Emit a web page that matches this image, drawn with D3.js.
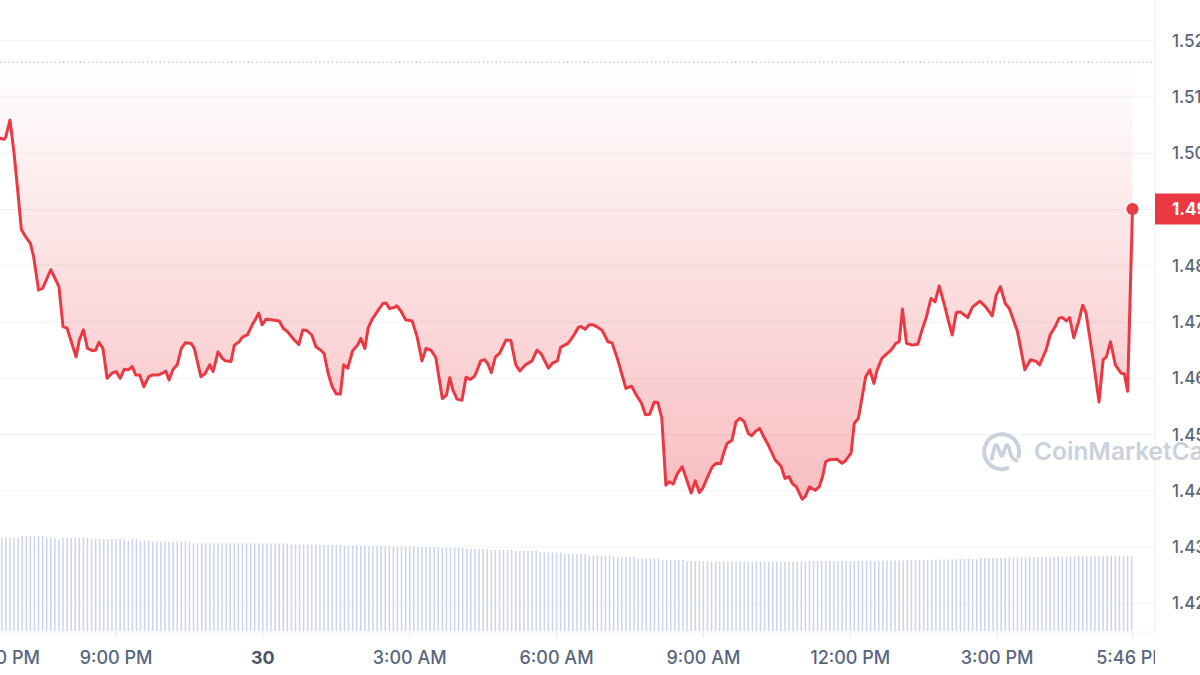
<!DOCTYPE html>
<html>
<head>
<meta charset="utf-8">
<script src="https://cdn.jsdelivr.net/npm/d3@7"></script>
<style>
  html, body { margin: 0; padding: 0; background: #ffffff; }
  svg { display: block; font-family: Inter, "Noto Sans", sans-serif; }
</style>
</head>
<body>
<div id="chart"></div>
<script>
// Price samples: minutes after 6:00 PM (29th) and the price at that time
const priceMinutes = [36,43,45,50,55,59,64,69,75,79,85,90,100,104,110,115,120,131,135,140,145,151,155,159,164,169,175,180,185,190,195,200,204,209,214,220,225,232,237,241,245,250,255,260,265,272,276,284,289,295,299,305,310,314,321,325,331,
    335,341,347,351,355,359,364,370,380,385,390,398,404,409,414,420,425,431,435,440,445,450,455,459,464,470,476,480,485,489,494,500,507,511,515,521,524,529,535,543,549,555,560,566,572,580,585,589,593,598,604,609,614,619,
    622,627,632,636,640,645,650,658,664,670,675,682,690,696,701,710,715,721,725,734,740,747,750,755,760,765,770,776,783,788,795,805,812,818,824,829,834,840,844,849,854,858,863,868,874,885,890,895,899,907,
    911,916,921,925,929,935,940,945,950,955,959,964,969,974,980,988,995,1000,1005,1009,1014,1021,1025,1030,1037,1042,1046,1050,1054,1064,1070,1074,1081,1085,1090,1099,1104,1109,1113,1119,1123,1130,1136,1140,1144,1149,1156,1163,1168,1173,1179,1184,1189,1195,1200,1205,1210,1215,1224,1230,1239,1246,1254,1259,1264,1270,1275,1285,1294,1301,1308,1312,1320,1325,1332,1336,1340,1345,1349,1354,1360,1365,1369,1377,1385,1390,1394,1399,1405,1412,1416,1420,1426];

const priceValues = [1.5027,1.5025,1.5030,1.5059,1.5000,1.4941,1.4864,1.4852,1.4840,1.4816,1.4757,1.4760,1.4793,1.4781,1.4763,1.4692,1.4689,1.4638,1.4668,1.4686,1.4653,1.4649,1.4650,1.4664,1.4653,1.4600,1.4609,1.4612,1.4600,1.4616,1.4615,1.4621,1.4606,1.4606,1.4585,1.4603,1.4606,1.4606,1.4609,1.4613,1.4597,1.4616,1.4624,1.4653,1.4663,1.4662,1.4653,1.4603,1.4608,1.4624,1.4612,1.4647,1.4636,1.4631,1.4630,1.4659,1.4665,
    1.4673,1.4677,1.4695,1.4705,1.4716,1.4695,1.4705,1.4704,1.4702,1.4689,1.4683,1.4669,1.4660,1.4686,1.4685,1.4677,1.4656,1.4650,1.4644,1.4609,1.4585,1.4572,1.4572,1.4624,1.4618,1.4649,1.4659,1.4671,1.4653,1.4689,1.4705,1.4718,1.4733,1.4734,1.4724,1.4726,1.4729,1.4720,1.4704,1.4702,1.4674,1.4631,1.4653,1.4650,1.4637,1.4564,1.4570,1.4601,1.4579,1.4563,1.4561,1.4602,1.4598,1.4603,
    1.4612,1.4631,1.4633,1.4625,1.4610,1.4638,1.4644,1.4668,1.4667,1.4624,1.4613,1.4624,1.4631,1.4650,1.4644,1.4618,1.4627,1.4631,1.4655,1.4662,1.4674,1.4691,1.4692,1.4687,1.4695,1.4695,1.4691,1.4685,1.4665,1.4663,1.4633,1.4582,1.4586,1.4570,1.4556,1.4535,1.4536,1.4558,1.4557,1.4529,1.4410,1.4416,1.4412,1.4430,1.4443,1.4396,1.4418,1.4397,1.4404,1.4431,
    1.4443,1.4449,1.4448,1.4468,1.4484,1.4490,1.4523,1.4529,1.4523,1.4502,1.4498,1.4506,1.4511,1.4496,1.4480,1.4455,1.4444,1.4422,1.4425,1.4413,1.4407,1.4385,1.4390,1.4407,1.4401,1.4407,1.4425,1.4452,1.4455,1.4456,1.4449,1.4453,1.4467,1.4520,1.4529,1.4603,1.4615,1.4591,1.4615,1.4636,1.4641,1.4650,1.4662,1.4665,1.4723,1.4662,1.4659,1.4661,1.4686,1.4707,1.4742,1.4736,1.4764,1.4733,1.4704,1.4677,1.4717,1.4718,1.4708,1.4727,1.4737,1.4727,1.4711,1.4748,1.4763,1.4733,1.4724,1.4683,1.4615,1.4633,1.4630,1.4624,1.4650,1.4677,1.4694,1.4707,1.4708,1.4702,1.4708,1.4672,1.4701,1.4730,1.4716,1.4641,1.4558,1.4633,1.4638,1.4665,1.4624,1.4609,1.4608,1.4577,1.4901];

// Opening price of the window (dotted reference line)
const openPrice = 1.5162;

// Volume bars, one per 5 minutes starting 40 min after 6:00 PM (one row per hour)
const volumeStartMinute = 40;
const volumeStepMinutes = 5;
const volumeValues = [
    93.3,93.3,93.3,93.3,93.3,95,95,95,95,95,95,93.3,
    93.3,93.3,91.7,93.3,93.3,93.3,93.3,93.3,93.3,93.3,91.7,92,
    92,92,92,92,92,92,92,90.3,92,92,90.3,90.3,
    90.3,89.3,89.3,89.3,89.3,89.3,89.3,89.5,89.5,89.5,88.3,87.7,
    87.7,87.7,87.7,87.7,87.7,87.7,87.7,87.7,87.7,87.7,87.7,87.7,
    87.7,87.7,87.7,87.7,87.7,87.7,87.7,87.7,87.7,87.7,87.7,86.7,
    86.5,86.5,86.5,86.5,86.5,86.5,86,86,86,86,86,86,
    85.5,85.5,85.5,85.5,85.5,85.5,85,85,85,85,85,85,
    84.5,84.5,84.5,84.5,84.5,84.5,84,84,84,84,84,84,
    83,83,83,83,83,83,82,82,82,82,82,82,
    81,81,81,81,81,81,80,80,80,80,80,80,
    78.5,78.5,78.5,78.5,78.5,78.5,77,77,77,77,77,77,
    75.5,75.5,75.5,75.5,75.5,75.5,74,74,74,74,74,74,
    72.5,72.5,72.5,72.5,72.5,72.5,71,71,71,71,71,71,
    70,70,70,70,70,70,69.5,69.5,69.5,69.5,69.5,69.5,
    69.5,69.5,69.5,69.5,69.5,69.5,69.5,69.5,69.5,69.5,69.5,69.5,
    69.5,69.5,69.5,69.5,69.5,69.5,70,70,70,70,70,70,
    70,70,70,70,70,70,70,70,70,70,70,70,
    70.5,70.5,70.5,70.5,70.5,70.5,71,71,71,71,71,71,
    71.5,71.5,71.5,71.5,71.5,71.5,72,72,72,72,72,72,
    73,73,73,73,73,73,73.5,73.5,73.5,73.5,73.5,73.5,
    74,74,74,74,74,74,74.5,74.5,74.5,74.5,74.5,74.5,
    75,75,75,75,75,75,75,75,75,75,75,75,
    75,75
];

// Axis ticks
const yTicks = [1.42, 1.43, 1.44, 1.45, 1.46, 1.47, 1.48, 1.49, 1.50, 1.51, 1.52];
const xTickMinutes = [0, 180, 360, 540, 720, 900, 1080, 1260, 1426];
const xTickLabels = ["6:00 PM", "9:00 PM", "30", "3:00 AM", "6:00 AM", "9:00 AM", "12:00 PM", "3:00 PM", "5:46 PM"];

const width = 1200, height = 675;
const plotRight = 1155;
const volBottom = 632;
const red = "#ea3943";
const axisColor = "#58667e";
const gridColor = "#eff2f5";

const startTime = new Date(2023, 3, 29, 18, 0);
const toDate = m => d3.timeMinute.offset(startTime, m);

const priceData = priceMinutes.map((m, i) => ({ date: toDate(m), price: priceValues[i] }));
const volumeData = volumeValues.map((v, i) => ({ date: toDate(volumeStartMinute + i * volumeStepMinutes), volume: v }));

const x = d3.scaleTime()
    .domain([toDate(0), toDate(1426)])
    .range([-30.8, 1132.5]);

const y = d3.scaleLinear()
    .domain([1.42, 1.52])
    .range([603.3, 40.8]);

const yVol = d3.scaleLinear()
    .domain([0, 100])
    .range([631, 531]);

const svg = d3.select("#chart").append("svg")
    .attr("width", width)
    .attr("height", height);

const defs = svg.append("defs");

// Red fading fill between the open line and the price
const grad = defs.append("linearGradient")
    .attr("id", "fillGrad")
    .attr("gradientUnits", "userSpaceOnUse")
    .attr("x1", 0).attr("x2", 0)
    .attr("y1", y(openPrice))
    .attr("y2", y(d3.min(priceValues)));
grad.append("stop").attr("offset", "0%").attr("stop-color", red).attr("stop-opacity", 0);
grad.append("stop").attr("offset", "100%").attr("stop-color", red).attr("stop-opacity", 0.33);

defs.append("clipPath").attr("id", "xLabelClip")
    .append("rect")
    .attr("x", -200).attr("y", 0)
    .attr("width", plotRight + 200).attr("height", height);

// Horizontal grid
svg.append("g")
    .selectAll("line")
    .data(yTicks)
    .join("line")
    .attr("x1", 0)
    .attr("x2", plotRight)
    .attr("y1", d => y(d))
    .attr("y2", d => y(d))
    .attr("stroke", gridColor)
    .attr("stroke-width", 1);

// Plot frame (right and bottom edges)
svg.append("line")
    .attr("x1", plotRight).attr("x2", plotRight)
    .attr("y1", 0).attr("y2", volBottom)
    .attr("stroke", gridColor);

svg.append("line")
    .attr("x1", 0).attr("x2", plotRight)
    .attr("y1", volBottom).attr("y2", volBottom)
    .attr("stroke", gridColor);

svg.append("g")
    .selectAll("line")
    .data(xTickMinutes)
    .join("line")
    .attr("x1", d => x(toDate(d)))
    .attr("x2", d => x(toDate(d)))
    .attr("y1", volBottom)
    .attr("y2", volBottom + 6)
    .attr("stroke", "#e6e9ef");

// Volume bars
svg.append("g")
    .selectAll("rect")
    .data(volumeData)
    .join("rect")
    .attr("x", d => x(d.date) - 0.75)
    .attr("width", 1.5)
    .attr("y", d => yVol(d.volume))
    .attr("height", d => yVol(0) - yVol(d.volume))
    .attr("fill", "#cdd4ea");

// Area between open price and the price line
const area = d3.area()
    .x(d => x(d.date))
    .y0(y(openPrice))
    .y1(d => y(d.price));

svg.append("path")
    .datum(priceData)
    .attr("d", area)
    .attr("fill", "url(#fillGrad)");

// Dotted open price line
svg.append("line")
    .attr("x1", 0)
    .attr("x2", plotRight)
    .attr("y1", y(openPrice))
    .attr("y2", y(openPrice))
    .attr("stroke", "#a2abbd")
    .attr("stroke-width", 1)
    .attr("stroke-dasharray", "1.2,3");

// Watermark
const wmColor = "#cad1de";
const wm = svg.append("g")
    .attr("transform", "translate(1001.7, 451.7)")
    .attr("fill", "none")
    .attr("stroke", wmColor);

wm.append("path")
    .attr("d", d3.arc()
        .innerRadius(15.5)
        .outerRadius(19.5)
        .startAngle(Math.PI * 0.86)
        .endAngle(Math.PI * 2.62)())
    .attr("fill", wmColor)
    .attr("stroke", "none");

wm.append("path")
    .attr("d", "M-10,7 L-7,-5 Q-5.5,-9 -4,-5 L-1,3 Q0,6 1,3 L4,-5 Q5.5,-9 7,-5 L9,3 Q11,8 15,9")
    .attr("stroke-width", 3.6)
    .attr("stroke-linecap", "round")
    .attr("stroke-linejoin", "round");

svg.append("text")
    .attr("x", 1034)
    .attr("y", 460)
    .attr("fill", wmColor)
    .style("font-size", "24.5px")
    .style("font-weight", 600)
    .text("CoinMarketCap");

// Price line
const line = d3.line()
    .x(d => x(d.date))
    .y(d => y(d.price));

svg.append("path")
    .datum(priceData)
    .attr("d", line)
    .attr("fill", "none")
    .attr("stroke", red)
    .attr("stroke-width", 3)
    .attr("stroke-linejoin", "round");

const last = priceData[priceData.length - 1];

svg.append("circle")
    .attr("cx", x(last.date))
    .attr("cy", y(last.price))
    .attr("r", 6)
    .attr("fill", red);

// Right axis labels (the one under the price tag is hidden by it)
svg.append("g")
    .selectAll("text")
    .data(yTicks.filter(t => Math.abs(y(t) - y(last.price)) > 16))
    .join("text")
    .attr("x", 1172)
    .attr("y", d => y(d))
    .attr("dy", "0.36em")
    .attr("fill", axisColor)
    .style("font-size", "17px")
    .style("font-weight", 500)
    .text(d => d.toFixed(2));

// Current price tag
svg.append("rect")
    .attr("x", plotRight)
    .attr("y", y(last.price) - 15.5)
    .attr("width", width - plotRight)
    .attr("height", 31)
    .attr("fill", red);

svg.append("text")
    .attr("x", 1172)
    .attr("y", y(last.price))
    .attr("dy", "0.36em")
    .attr("fill", "#ffffff")
    .style("font-size", "17px")
    .style("font-weight", 700)
    .text(last.price.toFixed(4));

// Bottom axis labels (the first one sits inside the left edge, the last is cut at the frame)
svg.append("g")
    .attr("clip-path", "url(#xLabelClip)")
    .selectAll("text")
    .data(xTickMinutes)
    .join("text")
    .attr("x", (d, i) => i === 0 ? 40 : x(toDate(d)))
    .attr("y", 664)
    .attr("text-anchor", (d, i) => i === 0 ? "end" : "middle")
    .attr("fill", (d, i) => xTickLabels[i] === "30" ? "#4a5568" : axisColor)
    .style("font-size", "18px")
    .style("font-weight", (d, i) => xTickLabels[i] === "30" ? 700 : 500)
    .text((d, i) => xTickLabels[i]);
</script>
</body>
</html>
